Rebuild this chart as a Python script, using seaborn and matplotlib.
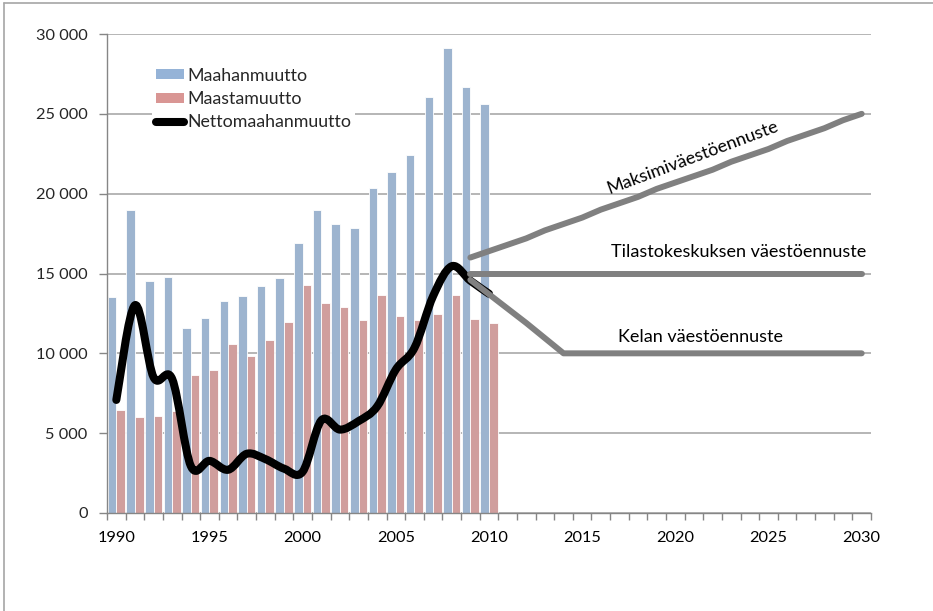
import numpy as np
import pandas as pd
import seaborn as sns
import matplotlib
matplotlib.use("Agg")
import matplotlib.pyplot as plt
from matplotlib.path import Path
from matplotlib.patches import PathPatch, Patch
from matplotlib.lines import Line2D
from matplotlib.ticker import FuncFormatter

# ---------------- data ----------------
years_hist = list(range(1990, 2011))
maahanmuutto = [13558, 19001, 14554, 14795, 11611, 12222, 13294, 13564, 14192, 14744,
                16895, 18955, 18113, 17838, 20333, 21355, 22451, 26029, 29114, 26699, 25636]
maastamuutto = [6477, 5984, 6055, 6405, 8672, 8957, 10587, 9854, 10817, 11966,
                14311, 13153, 12891, 12083, 13656, 12369, 12107, 12443, 13657, 12151, 11905]
nettomaahanmuutto = [7081, 13017, 8499, 8390, 2939, 3265, 2707, 3710, 3375, 2778,
                     2584, 5802, 5222, 5755, 6677, 8986, 10344, 13586, 15457, 14548, 13731]

years_proj = list(range(2009, 2031))
maksimi = [16000, 16400, 16800, 17200, 17700, 18100, 18500, 19000, 19400, 19800, 20300,
           20700, 21100, 21500, 22000, 22400, 22800, 23300, 23700, 24100, 24600, 25000]
tilasto = [15000] * 22
kela = [14600, 13700, 12800, 11900, 10950, 10000] + [10000] * 16

all_years = [str(y) for y in range(1990, 2031)]
series_names = ["Maahanmuutto", "Maastamuutto"]
line_name = "Nettomaahanmuutto"
proj_labels = ["Maksimiväestöennuste", "Tilastokeskuksen väestöennuste", "Kelan väestöennuste"]

BLUE = "#95B3D7"
RED = "#D99694"
GRAY = "#808080"
GRID = "#B0B0B0"

sns.set_theme(style="white")
plt.rcParams["font.family"] = ["Lato", "DejaVu Sans"]

fig = plt.figure(figsize=(9.33, 6.11), dpi=100)
W, H = 933, 611
ax = fig.add_axes([107 / W, (H - 513) / H, (871 - 107) / W, (513 - 34) / H])

df = pd.DataFrame({
    "year": [str(y) for y in years_hist] * 2,
    "value": maahanmuutto + maastamuutto,
    "series": [series_names[0]] * len(years_hist) + [series_names[1]] * len(years_hist),
})
sns.barplot(data=df, x="year", y="value", hue="series", order=all_years,
            hue_order=series_names, palette=[BLUE, RED], width=0.92,
            edgecolor="white", linewidth=0.6, ax=ax, legend=False, zorder=2)


def idx(year):
    return all_years.index(str(year))


def smooth_path(xs, ys):
    pts = np.column_stack([xs, ys]).astype(float)
    n = len(pts)
    verts = [pts[0]]
    codes = [Path.MOVETO]
    for i in range(n - 1):
        p0 = pts[i - 1] if i > 0 else pts[i]
        p1 = pts[i]
        p2 = pts[i + 1]
        p3 = pts[i + 2] if i + 2 < n else pts[i + 1]
        c1 = p1 + (p2 - p0) / 6.0
        c2 = p2 - (p3 - p1) / 6.0
        verts += [c1, c2, p2]
        codes += [Path.CURVE4] * 3
    return Path(verts, codes)


# net immigration (smoothed)
px = [idx(y) for y in years_hist]
ax.add_patch(PathPatch(smooth_path(px, nettomaahanmuutto), facecolor="none",
                       edgecolor="black", lw=5.8, capstyle="round", joinstyle="round", zorder=4))

# projections
qx = [idx(y) for y in years_proj]
for vals in (maksimi, tilasto, kela):
    ax.plot(qx, vals, color=GRAY, lw=4.3, solid_capstyle="round", solid_joinstyle="round", zorder=5)

# annotations
ax.text(30.96, 22290, proj_labels[0], rotation=20.5, ha="center", va="center", fontsize=13, color="black")
ax.text(33.37, 16340, proj_labels[1], ha="center", va="center", fontsize=13, color="black")
ax.text(31.33, 11020, proj_labels[2], ha="center", va="center", fontsize=13, color="black")

# axes styling
ax.set_xlim(-0.5, 40.5)
ax.set_ylim(0, 30000)
ax.set_yticks(range(0, 30001, 5000))
ax.yaxis.set_major_formatter(FuncFormatter(lambda v, p: f"{int(v):,}".replace(",", " ")))
ax.set_xticks([idx(y) for y in range(1990, 2031, 5)])
ax.set_xticklabels([str(y) for y in range(1990, 2031, 5)])
ax.set_xticks(np.arange(-0.5, 41, 1.0), minor=True)
ax.tick_params(axis="x", which="major", length=0, pad=13, labelsize=11.8, colors="black")
ax.tick_params(axis="x", which="minor", length=5, width=1.0, color="#868686", bottom=True)
ax.tick_params(axis="y", which="major", length=6, width=1.0, color="#868686", left=True,
               labelsize=11.8, pad=8)
ax.set_xlabel("")
ax.set_ylabel("")
ax.yaxis.grid(True, color=GRID, lw=1.3, zorder=0)
ax.set_axisbelow(True)
for s in ("top", "right"):
    ax.spines[s].set_visible(False)
for s in ("left", "bottom"):
    ax.spines[s].set_color("#868686")
    ax.spines[s].set_linewidth(1.0)

handles = [Patch(facecolor=BLUE, edgecolor="none"),
           Patch(facecolor=RED, edgecolor="none"),
           Line2D([0], [0], color="black", lw=5.8, solid_capstyle="round")]
leg = ax.legend(handles, series_names + [line_name], loc="upper left",
                bbox_to_anchor=(152 / W, (H - 64) / H), bbox_transform=fig.transFigure,
                frameon=True, fontsize=12.8, handlelength=1.6, handleheight=0.5,
                handletextpad=0.2, labelspacing=0.42, borderpad=0.2, borderaxespad=0)
leg.get_frame().set_facecolor("white")
leg.get_frame().set_edgecolor("none")
leg.get_frame().set_alpha(1)
leg.set_zorder(6)

# outer border (top & left visible)
fig.add_artist(Line2D([4 / W, 4 / W], [0, (H - 3) / H], color="#A6A6A6", lw=1.2, transform=fig.transFigure))
fig.add_artist(Line2D([4 / W, 1], [(H - 3) / H, (H - 3) / H], color="#A6A6A6", lw=1.2, transform=fig.transFigure))

fig.savefig("out.png", dpi=100, facecolor="white")
